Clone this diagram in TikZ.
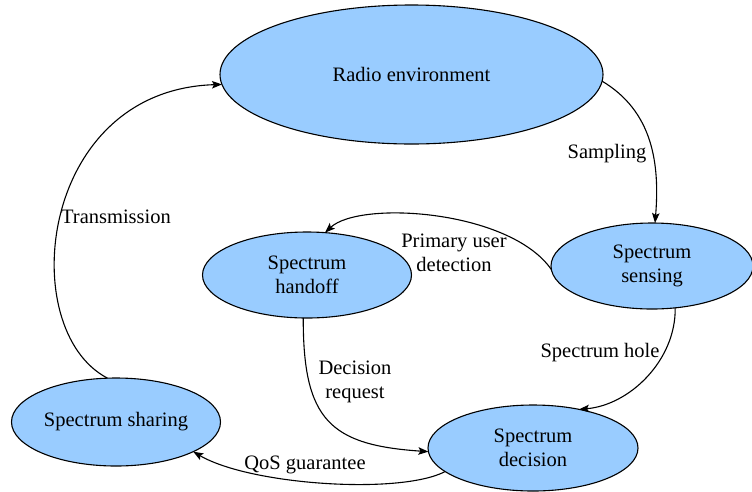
\documentclass[tikz,border=0pt]{standalone}
\usepackage{fontspec}
\setmainfont{Liberation Serif}
\usetikzlibrary{shapes.geometric,arrows.meta}
\definecolor{stateblue}{HTML}{99CCFF}
\begin{document}
\begin{tikzpicture}[x=1pt,y=-1pt,
  font=\fontsize{20.5}{24}\selectfont,
  state/.style={ellipse,draw=black,line width=1.1pt,fill=stateblue,
    inner sep=0pt,outer sep=0pt,align=center},
  flow/.style={line width=1.1pt,-{Stealth[length=10pt,width=7.5pt,inset=2pt]}},
  lbl/.style={inner sep=0pt,align=center}]
\useasboundingbox (0,0) rectangle (752,491);

% states of the cognitive cycle
\node[state,minimum width=383pt,minimum height=139pt] (radio) at (411.5,74.5) {Radio environment};
\node[state,minimum width=202pt,minimum height=86pt] (sense) at (652,266) {Spectrum\\sensing};
\node[state,minimum width=209pt,minimum height=86pt] (hand) at (307,275) {Spectrum\\handoff};
\node[state,minimum width=209pt,minimum height=88pt] (share) at (116,422) {Spectrum sharing};
\node[state,minimum width=210pt,minimum height=86pt] (decide) at (533,448) {Spectrum\\decision};

% transitions
\draw[flow] (radio.-2) .. controls (652,111) and (660,162) .. (sense.86);
\draw[flow] (share.101) .. controls (15,330) and (38,90) .. (radio.183);
\draw[flow] (sense.182) .. controls (510,210) and (360,200) .. (hand.67);
\draw[flow] (sense.-61) .. controls (676,360) and (630,405) .. (decide.40);
\draw[flow] (hand.265) .. controls (303,420) and (330,445) .. (decide.182.7);
\draw[flow] (decide.195.5) .. controls (400,495) and (250,485) .. (share.-21);

% transition labels
\node[lbl] (lsamp) at (607,153.5) {Sampling};
\node[lbl] (ltrans) at (116,216.5) {Transmission};
\node[lbl] (lpud) at (454,252.5) {Primary user\\detection};
\node[lbl] (lhole) at (600,352.5) {Spectrum hole};
\node[lbl] (lreq) at (355,381.5) {Decision\\request};
\node[lbl] (lqos) at (305,464.5) {QoS guarantee};
\end{tikzpicture}
\end{document}
